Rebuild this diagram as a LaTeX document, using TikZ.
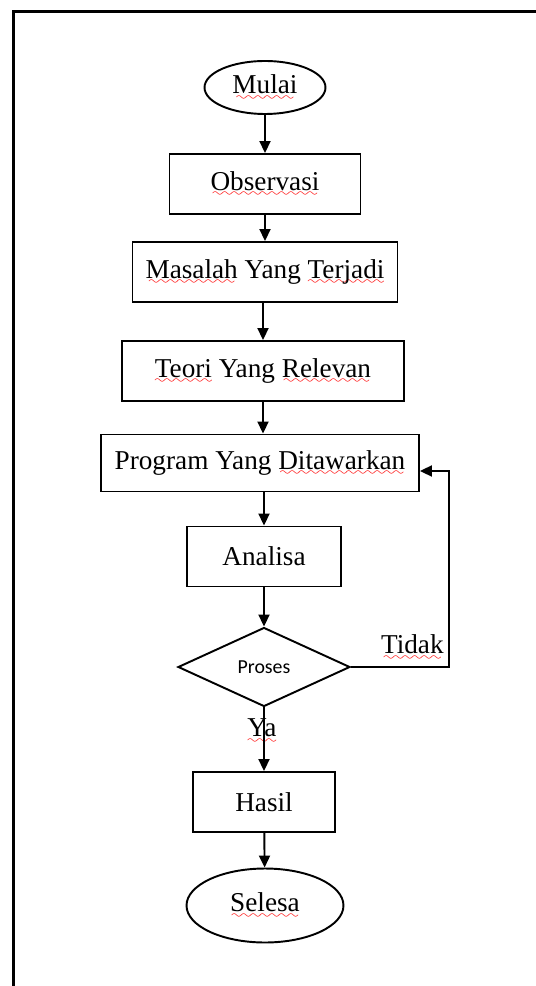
\documentclass[tikz,border=0pt]{standalone}
\usepackage{fontspec}
\setmainfont{Liberation Serif}
\newfontfamily\calibri{Carlito}
\usepackage{xcolor}
\usetikzlibrary{shapes.geometric,arrows.meta}
\font\wavefont=lasy7
\newsavebox\wavebox
\newcommand{\redwave}[1]{\sbox\wavebox{#1}\rlap{\lower3.8pt\hbox to\wd\wavebox{\color{red}\cleaders\hbox{\wavefont\char58}\hfill}}\usebox\wavebox}

\begin{document}
\begin{tikzpicture}[x=0.02cm, y=-0.02cm, font=\fontsize{15.5}{18}\selectfont,
    box/.style={draw, line width=1.1pt, inner sep=0pt, minimum height=1.2cm},
    arr/.style={line width=1.1pt, -{Triangle[length=0.24cm,width=0.22cm]}}]
  \useasboundingbox (0,0) rectangle (536,986);
  \draw[line width=1.3pt] (13.5,986) -- (13.5,11.5) -- (536,11.5);
  % nodes
  \node[box, ellipse, minimum width=2.42cm, minimum height=1.06cm] (mulai) at (265,87.5) {\redwave{Mulai}};
  \node[box, minimum width=3.82cm] (obs) at (265,184) {\redwave{Observasi}};
  \node[box, minimum width=5.3cm] (masalah) at (265,272) {\redwave{Masalah} Yang \redwave{Terjadi}};
  \node[box, minimum width=5.64cm] (teori) at (263,371) {\redwave{Teori} Yang \redwave{Relevan}};
  \node[box, minimum width=6.36cm, minimum height=1.14cm] (prog) at (260,463) {Program Yang \redwave{Ditawarkan}};
  \node[box, minimum width=3.08cm] (analisa) at (264,556.5) {Analisa};
  \node[box, diamond, minimum width=3.44cm, minimum height=1.58cm, font=\calibri\fontsize{11.3}{13}\selectfont] (proses) at (264,667) {Proses};
  \node[box, minimum width=2.83cm] (hasil) at (264,802) {Hasil};
  \node[box, ellipse, minimum width=3.14cm, minimum height=1.48cm] (selesa) at (265,905.5) {\redwave{Selesa}};
  \coordinate (balik) at (449,667);
  \node[anchor=south east, inner sep=0pt, xshift=-0.1cm, yshift=0.13cm] (tidak) at (balik) {\redwave{Tidak}};
  \node[inner sep=0pt] (ya) at (262,731) {\redwave{Ya}};
  % connectors
  \draw[arr] (mulai) -- (obs);
  \draw[arr] (obs) -- (masalah);
  \draw[arr] (masalah.south -| teori) -- (teori);
  \draw[arr] (teori) -- (teori |- prog.north);
  \draw[arr] (prog.south -| analisa) -- (analisa);
  \draw[arr] (analisa) -- (proses);
  \draw[arr] (proses) -- (hasil);
  \draw[arr] (hasil) -- (selesa);
  \draw[arr] (proses) -- (balik) |- ([yshift=-0.16cm]prog.east);
\end{tikzpicture}
\end{document}
